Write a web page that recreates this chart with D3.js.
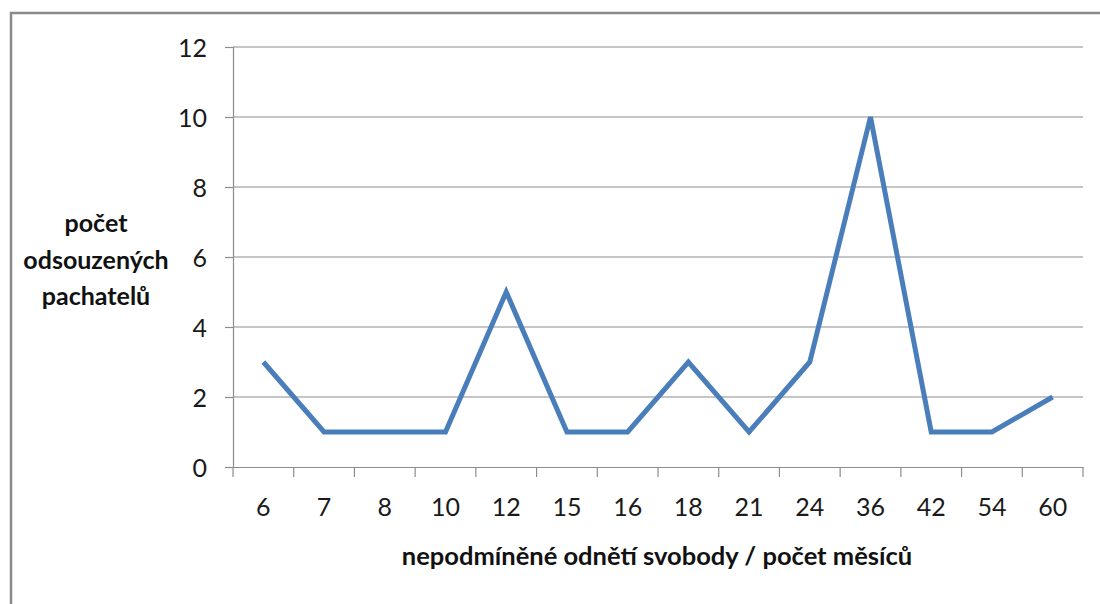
<!DOCTYPE html>
<html><head><meta charset="utf-8">
<script src="https://cdn.jsdelivr.net/npm/d3@7"></script>
<style>body{margin:0;background:#fff;}svg{display:block;}</style>
</head><body>
<svg id="c" width="1100" height="604"></svg>
<script>
const categories = ["6","7","8","10","12","15","16","18","21","24","36","42","54","60"];
const values = [3,1,1,1,5,1,1,3,1,3,10,1,1,2];
const yTicks = [0,2,4,6,8,10,12];
const yLabelLines = ["počet","odsouzených","pachatelů"];
const xTitle = "nepodmíněné odnětí svobody / počet měsíců";

(function(){
const svg = d3.select("#c");
const font = "Lato, 'Open Sans', sans-serif";
const pLeft = 233, pRight = 1083, pTop = 47, pBottom = 467;

// frame
svg.append("path").attr("d","M11,604 V13 H1100").attr("fill","none").attr("stroke","#8a8a8a").attr("stroke-width",2.5);

const x = d3.scaleBand().domain(categories).range([pLeft,pRight]).padding(0);
const y = d3.scaleLinear().domain([0,12]).range([pBottom,pTop]);

// gridlines
svg.append("g").selectAll("line").data(yTicks.filter(d=>d>0)).join("line")
  .attr("x1",pLeft).attr("x2",pRight).attr("y1",d=>y(d)).attr("y2",d=>y(d))
  .attr("stroke","#8c8c8c").attr("stroke-width",1.2);

// y axis
const ya = svg.append("g").attr("transform",`translate(${pLeft},0)`)
  .call(d3.axisLeft(y).tickValues(yTicks).tickSize(8).tickPadding(18));
ya.select(".domain").attr("stroke","#8c8c8c").attr("stroke-width",1.2);
ya.selectAll(".tick line").attr("stroke","#8c8c8c").attr("stroke-width",1.2);
ya.selectAll("text").attr("font-family",font).attr("font-size",25).attr("fill","#1a1a1a").attr("dy","0.36em");

// x axis
const xa = svg.append("g").attr("transform",`translate(0,${pBottom})`)
  .call(d3.axisBottom(x).tickSize(0).tickPadding(31));
xa.select(".domain").attr("stroke","#8c8c8c").attr("stroke-width",1.2);
xa.selectAll("text").attr("font-family",font).attr("font-size",25).attr("fill","#1a1a1a");
const bounds = categories.map(c=>x(c)).concat([pRight]);
svg.append("g").selectAll("line").data(bounds).join("line")
  .attr("x1",d=>d).attr("x2",d=>d).attr("y1",pBottom).attr("y2",pBottom+10)
  .attr("stroke","#8c8c8c").attr("stroke-width",1.2);

// line
const line = d3.line().x((d,i)=>x(categories[i])+x.bandwidth()/2).y(d=>y(d));
svg.append("path").datum(values).attr("d",line).attr("fill","none")
  .attr("stroke","#4a7ebb").attr("stroke-width",5).attr("stroke-linejoin","miter");

// y label
svg.append("text").attr("text-anchor","middle")
  .attr("font-family",font).attr("font-size",25).attr("font-weight","bold").attr("fill","#111")
  .selectAll("tspan").data(yLabelLines).join("tspan")
  .attr("x",96).attr("y",(d,i)=>232+i*36.5).text(d=>d);

// x title
svg.append("text").attr("x",657).attr("y",565).attr("text-anchor","middle")
  .attr("font-family",font).attr("font-size",25.5).attr("font-weight","bold").attr("fill","#111")
  .text(xTitle);
})();
</script>
</body></html>
